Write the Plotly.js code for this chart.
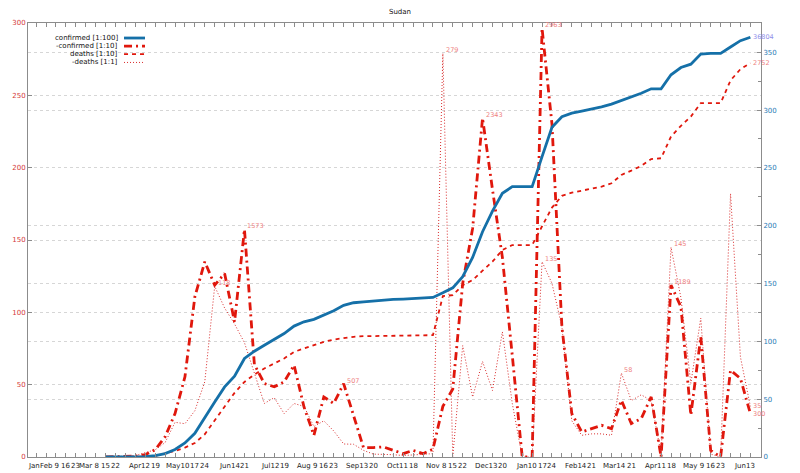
<!DOCTYPE html>
<html>
<head>
<meta charset="utf-8">
<script src="https://cdn.plot.ly/plotly-3.0.1.min.js"></script>
<style>html,body{margin:0;padding:0;background:#fff;}#chart{width:800px;height:473px;}</style>
</head>
<body>
<div id="chart"></div>
<script>
// Weekly dates (Sundays)
const dates = [
 "2020-03-15","2020-03-22","2020-03-29","2020-04-05","2020-04-12","2020-04-19","2020-04-26",
 "2020-05-03","2020-05-10","2020-05-17","2020-05-24","2020-05-31","2020-06-07","2020-06-14",
 "2020-06-21","2020-06-28","2020-07-05","2020-07-12","2020-07-19","2020-07-26","2020-08-02",
 "2020-08-09","2020-08-16","2020-08-23","2020-08-30","2020-09-06","2020-09-13","2020-09-20",
 "2020-09-27","2020-10-04","2020-10-11","2020-10-18","2020-10-25","2020-11-01","2020-11-08",
 "2020-11-15","2020-11-22","2020-11-29","2020-12-06","2020-12-13","2020-12-20","2020-12-27",
 "2021-01-03","2021-01-10","2021-01-17","2021-01-24","2021-01-31","2021-02-07","2021-02-14",
 "2021-02-21","2021-02-28","2021-03-07","2021-03-14","2021-03-21","2021-03-28","2021-04-04",
 "2021-04-11","2021-04-18","2021-04-25","2021-05-02","2021-05-09","2021-05-16","2021-05-23",
 "2021-05-30","2021-06-06","2021-06-13"
];
// confirmed (cumulative) / 100  -> right axis
const confirmed100 = [
 0.01,0.02,0.06,0.12,0.3,1.2,2.9,6.5,12.1,20.5,34.6,47.6,60.6,69.9,85.2,91.5,96.7,101.6,106.8,113.2,
 116.9,119,122.7,126.4,131.2,133.4,134.2,135.1,135.7,136.3,136.6,137.1,137.4,138,142,146.3,155.9,172.6,
 194.8,212.7,228,233.8,233.8,233.8,259.8,285.2,294.2,297.3,299,300.8,302.8,305.1,308.3,311.1,314.6,
 318.4,318.4,330.5,336.8,339.7,348.4,349,349,354.5,360,363
];
// weekly new confirmed / 10 -> left axis
const newConfirmed10 = [
 0.1,0.1,0.4,0.6,1.7,5,14,30,55.4,110.8,135,118.8,126.9,93.4,157.3,64,50.8,48.5,51.9,63.5,
 34.6,15,41.5,37,50.7,27.7,6.5,6.5,7,4.6,2.3,4.6,2.3,5.4,35,47,120,158,234.3,185,
 138,70,0,0,296.3,230,90,30,17.3,19.6,21.9,19.6,39.2,23.1,26.6,41.5,0,118.9,103.8,28.9,
 83.1,4.6,0,60,54.3,30
];
// deaths (cumulative) / 10 -> left axis
const deaths10 = [
 0,0,0.05,0.1,0.3,0.8,2.3,4.2,6.5,9.7,15.7,25.4,35.1,44.3,51.9,57,61.2,64.6,68.1,72.7,
 75,77.3,79.6,81.2,82.2,83.1,83.5,83.6,83.7,83.8,83.9,84,84.1,84.2,111.2,111.9,118.8,122.3,128.8,135,
 143.1,146.5,146.5,146.5,159.5,172.4,180.5,182.7,184.1,185.5,186.9,189.2,195,198,201.2,205.9,206.5,221.5,228.9,235.3,
 244.6,244.6,244.6,260.3,268.1,272.3
];
// weekly new deaths -> left axis
const newDeaths = [
 0,0,1,1,3,5,10,24,23,32,52,118,103,92,79,58,37,41,30,37,
 35,21,25,18,9,8.8,4.6,2,2,1.6,1,1.5,1.5,2.3,279,0.5,77,41.5,66,46,
 86.5,37,0,0,135,120,90,25,15,16,16,15,58,39,43,39,2,145,110,51,
 96,2,0,182,69,35
];
const seriesNames = ["confirmed [1:100]","-confirmed [1:10]","deaths [1:10]","-deaths [1:1]"];

// value labels
const newConfirmedLabelIdx = [14,24,38,44,57,65];
const newConfirmedLabelText = ["1573","507","2343","2963","1189","300"];
const newDeathsLabelIdx = [11,34,44,52,57,65];
const newDeathsLabelText = ["118","279","135","58","145","35"];
const confirmedEndText = "36804";
const deathsEndText = "2752";

// x tick labels
const tickDates = [
 "2020-01-26","2020-02-09","2020-02-16","2020-02-23","2020-03-08","2020-03-15","2020-03-22",
 "2020-04-12","2020-04-19","2020-05-10","2020-05-17","2020-05-24","2020-06-14","2020-06-21",
 "2020-07-12","2020-07-19","2020-08-09","2020-08-16","2020-08-23","2020-09-13","2020-09-20",
 "2020-10-11","2020-10-18","2020-11-08","2020-11-15","2020-11-22","2020-12-13","2020-12-20",
 "2021-01-10","2021-01-17","2021-01-24","2021-02-14","2021-02-21","2021-03-14","2021-03-21",
 "2021-04-11","2021-04-18","2021-05-09","2021-05-16","2021-05-23","2021-06-13"
];
const tickLabels = [
 "Jan","Feb 9","16","23","Mar 8","15","22",
 "Apr12","19","May10","17","24","Jun14","21",
 "Jul12","19","Aug 9","16","23","Sep13","20",
 "Oct11","18","Nov 8","15","22","Dec13","20",
 "Jan10","17","24","Feb14","21","Mar14","21",
 "Apr11","18","May 9","16","23","Jun13"
];

const FONT = "DejaVu Sans, sans-serif";
const BLUE = "#1570a8";
const RED = "#e0170c";
const DOTRED = "#d92a2a";
const LABEL = "#ee7f80";
const AXIS = "#8c8c8c";
const GRID = "#d6d6d6";
const TICKFONT = 7;

const styles = [
  {color: BLUE, width: 2.8, dash: "solid"},
  {color: RED, width: 2.8, dash: "8px,4px,2px,4px"},
  {color: RED, width: 1.8, dash: "4px,4px"},
  {color: DOTRED, width: 1, dash: "1px,2px"}
];
const seriesData = [confirmed100, newConfirmed10, deaths10, newDeaths];
const seriesAxis = ["y2","y","y","y"];

const traces = seriesData.map((arr, i) => ({
  type: "scatter", mode: "lines", x: dates, y: arr, yaxis: seriesAxis[i],
  name: seriesNames[i], line: styles[i], showlegend: false, hoverinfo: "skip"
}));

const annotations = [];
const last = dates.length - 1;
newConfirmedLabelIdx.forEach((k, j) => annotations.push({
  x: dates[k], y: newConfirmed10[k], xref: "x", yref: "y", text: newConfirmedLabelText[j],
  showarrow: false, xanchor: "left", yanchor: "middle", xshift: 1, yshift: k === last ? 0 : 3,
  font: {family: FONT, size: 6.5, color: LABEL}
}));
newDeathsLabelIdx.forEach((k, j) => annotations.push({
  x: dates[k], y: newDeaths[k], xref: "x", yref: "y", text: newDeathsLabelText[j],
  showarrow: false, xanchor: "left", yanchor: "middle", xshift: 1, yshift: k === last ? 0 : 3,
  font: {family: FONT, size: 6.5, color: LABEL}
}));
annotations.push({
  x: dates[last], y: confirmed100[last], xref: "x", yref: "y2", text: confirmedEndText,
  showarrow: false, xanchor: "left", yanchor: "middle", xshift: 1,
  font: {family: FONT, size: 6.5, color: "#9090ea"}
});
annotations.push({
  x: dates[last], y: deaths10[last], xref: "x", yref: "y", text: deathsEndText,
  showarrow: false, xanchor: "left", yanchor: "middle", xshift: 1,
  font: {family: FONT, size: 6.5, color: LABEL}
});

// x tick labels: day number near the tick, month name hanging to its left (gnuplot look)
const measureCtx = document.createElement("canvas").getContext("2d");
measureCtx.font = TICKFONT + "px 'DejaVu Sans'";
tickLabels.forEach((lab, i) => {
  const m = lab.match(/^(.*?)(\d+)$/);
  let shift = 0;
  if (m && m[1].length) shift = -measureCtx.measureText(m[1].trim()).width / 2;
  if (i === 0) shift = -2.5;
  annotations.push({
    x: tickDates[i], xref: "x", y: 0, yref: "paper", text: lab, showarrow: false,
    xanchor: "center", yanchor: "top", xshift: shift, yshift: -4, borderpad: 0,
    font: {family: FONT, size: TICKFONT, color: "#222"}
  });
});

// custom gnuplot-style legend (text then sample)
const shapes = [];
const legendY = [0.9654, 0.9469, 0.9285, 0.9091];
seriesNames.forEach((nm, i) => {
  annotations.push({
    x: 0.1255, y: legendY[i], xref: "paper", yref: "paper", text: nm, showarrow: false,
    xanchor: "right", yanchor: "middle", font: {family: FONT, size: 7, color: "#111"}
  });
  shapes.push({
    type: "line", xref: "paper", yref: "paper", x0: 0.131, x1: 0.1596, y0: legendY[i], y1: legendY[i],
    line: {color: styles[i].color, width: styles[i].width, dash: styles[i].dash}
  });
});

const layout = {
  width: 800, height: 473,
  margin: {l: 28, r: 39, t: 23, b: 16, pad: 0},
  paper_bgcolor: "#fff", plot_bgcolor: "#fff",
  title: {text: "Sudan", x: 0.5, xanchor: "center", y: 0.975, yanchor: "middle",
          font: {family: FONT, size: 7, color: "#111"}},
  xaxis: {
    type: "date", range: ["2020-01-20 06:00", "2021-06-20 12:00"],
    tickmode: "array", tickvals: tickDates, ticktext: tickDates.map(() => ""),
    showticklabels: false,
    ticks: "inside", ticklen: 4, tickcolor: AXIS, tickwidth: 1,
    showline: true, linecolor: AXIS, linewidth: 1, mirror: "allticks",
    showgrid: false, zeroline: false, automargin: false,
    minor: {dtick: 604800000, tick0: "2020-01-26", ticks: "inside", ticklen: 4, tickcolor: AXIS, showgrid: false}
  },
  yaxis: {
    range: [0, 300], dtick: 50, tick0: 0,
    ticks: "inside", ticklen: 4, tickcolor: AXIS,
    showline: true, linecolor: AXIS, linewidth: 1,
    showgrid: true, gridcolor: GRID, griddash: "dot", gridwidth: 1,
    zeroline: false, automargin: false,
    tickfont: {family: FONT, size: 7, color: "#d43a3a"}
  },
  yaxis2: {
    overlaying: "y", side: "right", range: [0, 375.3], dtick: 50, tick0: 0,
    ticks: "inside", ticklen: 4, tickcolor: AXIS,
    showline: true, linecolor: AXIS, linewidth: 1,
    showgrid: true, gridcolor: GRID, griddash: "dot", gridwidth: 1,
    zeroline: false, automargin: false,
    tickfont: {family: FONT, size: 7, color: "#2a7bb5"},
    minor: {dtick: 25, ticks: "inside", ticklen: 3, tickcolor: AXIS, showgrid: false}
  },
  showlegend: false,
  annotations: annotations,
  shapes: shapes
};

Plotly.newPlot("chart", traces, layout, {staticPlot: true, displayModeBar: false});
</script>
</body>
</html>
